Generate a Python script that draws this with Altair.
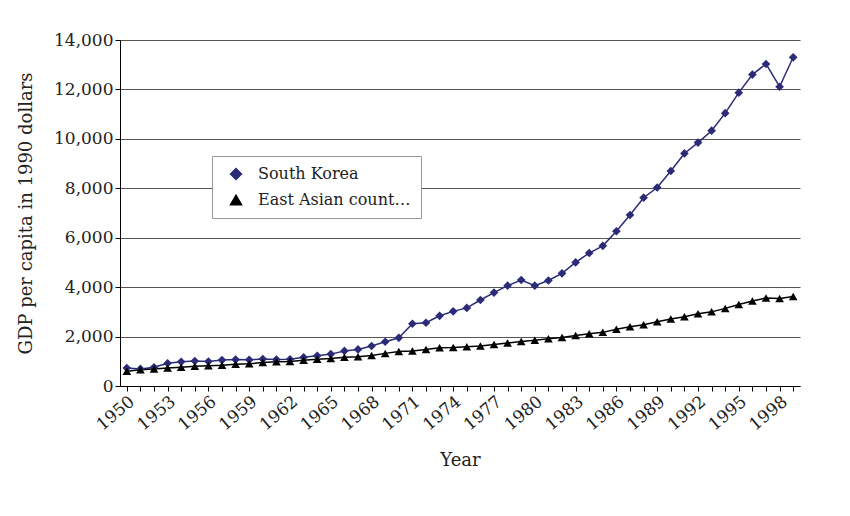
import altair as alt
import pandas as pd

years = list(range(1950, 2000))
korea = [730, 690, 760, 920, 980, 1010, 990, 1050, 1070, 1060,
         1090, 1070, 1080, 1160, 1220, 1290, 1420, 1480, 1620, 1790,
         1950, 2520, 2560, 2840, 3020, 3160, 3480, 3780, 4060, 4290,
         4060, 4270, 4560, 5000, 5380, 5670, 6260, 6920, 7620, 8030,
         8700, 9410, 9850, 10330, 11040, 11870, 12600, 13030, 12110, 13300]
east_asia = [600, 660, 690, 730, 760, 800, 820, 840, 880, 900,
             950, 980, 990, 1040, 1080, 1110, 1160, 1180, 1230, 1320,
             1400, 1420, 1480, 1550, 1560, 1590, 1620, 1680, 1740, 1800,
             1850, 1910, 1960, 2040, 2110, 2170, 2300, 2400, 2480, 2600,
             2710, 2800, 2920, 3000, 3140, 3300, 3440, 3560, 3540, 3620]
series = ["South Korea", "East Asian countries"]

df = pd.DataFrame({
    "Year": [str(y) for y in years] * 2,
    "GDP": korea + east_asia,
    "Series": [series[0]] * len(years) + [series[1]] * len(years),
})

FONT = "DejaVu Serif"
color = alt.Color("Series:N", scale=alt.Scale(domain=series, range=["#2b2b78", "#000000"]),
                  legend=alt.Legend(title=None, orient="none", legendX=92, legendY=116,
                                    strokeColor="#999999", padding=10, labelFont=FONT,
                                    labelFontSize=16, labelColor="#222", symbolSize=120,
                                    symbolStrokeWidth=1.5, rowPadding=9, fillColor="white",
                                    labelOffset=14, symbolOffset=6))
shape = alt.Shape("Series:N", scale=alt.Scale(domain=series, range=["diamond", "triangle-up"]), legend=None)

x = alt.X("Year:O", title="Year",
          scale=alt.Scale(type="point", padding=0.5),
          axis=alt.Axis(labelExpr="(toNumber(datum.value) - 1950) % 3 == 0 ? datum.value : ''",
                        labelAngle=-40, labelAlign="right", labelBaseline="top",
                        labelFont=FONT, labelFontSize=17, titleFont=FONT, titleFontSize=18,
                        titleFontWeight="normal", domainColor="#000", tickColor="#000",
                        labelColor="#222", titleColor="#222", tickSize=5, titlePadding=18,
                        labelOverlap=False, grid=False))
y = alt.Y("GDP:Q", title="GDP per capita in 1990 dollars",
          scale=alt.Scale(domain=[0, 14000]),
          axis=alt.Axis(values=list(range(0, 14001, 2000)),
                        labelExpr="format(datum.value, ',.0f')", labelFont=FONT,
                        labelFontSize=17, titleFont=FONT, titleFontSize=18,
                        titleFontWeight="normal", domainColor="#000", tickColor="#000",
                        labelColor="#222", titleColor="#222", gridColor="#555",
                        gridWidth=1.2, titlePadding=18))

base = alt.Chart(df)
lines = base.mark_line(strokeWidth=1.5).encode(x=x, y=y, color=color)
points = base.mark_point(filled=True, size=75, opacity=1).encode(x=x, y=y, color=color, shape=shape)

chart = (lines + points).properties(
    width=680, height=346,
    autosize=alt.AutoSizeParams(type="none"),
    padding={"left": 112, "top": 32, "right": 40, "bottom": 120},
).configure_view(stroke=None)

chart.save("out.html", embed_options={"renderer": "svg", "actions": False})
